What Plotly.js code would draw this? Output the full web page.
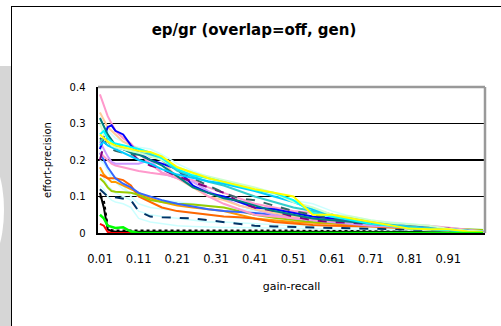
<!DOCTYPE html>
<html><head><meta charset="utf-8">
<script src="https://cdn.plot.ly/plotly-3.0.1.min.js"></script>
<style>
body{margin:0;background:#fff;}
#wrap{position:relative;width:501px;height:326px;overflow:hidden;background:#fff;}
#strip{position:absolute;left:0;top:66px;width:11px;height:260px;background:#d6d6d6;}
#arc{position:absolute;left:-40px;top:152px;width:44px;height:116px;border-radius:50%;background:#fff;}
#frame{position:absolute;left:11px;top:6px;width:500px;height:330px;border-left:1.5px solid #000;border-top:1.5px solid #000;}
#chart{position:absolute;left:0;top:0;width:501px;height:326px;}
</style></head>
<body>
<div id="wrap">
  <div id="strip"></div><div id="arc"></div><div id="frame"></div>
  <div id="chart"></div>
</div>
<script>
// all 100 categories of the x axis
const categories = ["0.01","0.02","0.03","0.04","0.05","0.06","0.07","0.08","0.09","0.10",
"0.11","0.12","0.13","0.14","0.15","0.16","0.17","0.18","0.19","0.20",
"0.21","0.22","0.23","0.24","0.25","0.26","0.27","0.28","0.29","0.30",
"0.31","0.32","0.33","0.34","0.35","0.36","0.37","0.38","0.39","0.40",
"0.41","0.42","0.43","0.44","0.45","0.46","0.47","0.48","0.49","0.50",
"0.51","0.52","0.53","0.54","0.55","0.56","0.57","0.58","0.59","0.60",
"0.61","0.62","0.63","0.64","0.65","0.66","0.67","0.68","0.69","0.70",
"0.71","0.72","0.73","0.74","0.75","0.76","0.77","0.78","0.79","0.80",
"0.81","0.82","0.83","0.84","0.85","0.86","0.87","0.88","0.89","0.90",
"0.91","0.92","0.93","0.94","0.95","0.96","0.97","0.98","0.99","1.00"];
const tickLabels = ["0.01","0.11","0.21","0.31","0.41","0.51","0.61","0.71","0.81","0.91"];
// recall points at which the curves were read
const recall = ["0.01","0.02","0.03","0.04","0.05","0.07","0.09","0.11","0.14","0.17","0.21","0.25","0.29","0.33",
"0.37","0.41","0.46","0.51","0.56","0.61","0.66","0.71","0.76","0.81","0.86","0.91","0.96","1.00"];

const sBlackDot  = [0.10,0.09,0.02,0.008,0.007,0.007,0.007,0.007,0.007,0.007,0.007,0.007,0.007,0.006,0.006,0.006,0.006,0.006,0.006,0.006,0.006,0.006,0.006,0.006,0.006,0.006,0.006,0.006];
const sBlack     = [0.11,0.07,0.01,0.005,0.004,0.004,0.004,0.004,0.004,0.004,0.004,0.004,0.003,0.003,0.003,0.003,0.003,0.003,0.003,0.003,0.003,0.003,0.003,0.003,0.003,0.003,0.003,0.003];
const sLightCyan1= [0.31,0.29,0.28,0.27,0.26,0.25,0.24,0.235,0.23,0.215,0.19,0.17,0.155,0.14,0.13,0.12,0.105,0.09,0.08,0.06,0.045,0.035,0.03,0.025,0.02,0.015,0.01,0.01];
const sLightCyan2= [0.20,0.19,0.17,0.15,0.14,0.12,0.11,0.10,0.095,0.09,0.085,0.08,0.075,0.07,0.065,0.06,0.055,0.05,0.045,0.04,0.035,0.03,0.025,0.02,0.015,0.012,0.01,0.008];
const sLightCyan3= [0.17,0.15,0.13,0.12,0.11,0.10,0.09,0.06,0.05,0.045,0.04,0.035,0.03,0.03,0.028,0.025,0.022,0.02,0.02,0.018,0.015,0.015,0.012,0.01,0.008,0.006,0.005,0.004];
const sLightCyan4= [0.24,0.20,0.17,0.16,0.15,0.13,0.10,0.08,0.07,0.065,0.06,0.055,0.05,0.045,0.04,0.038,0.035,0.032,0.03,0.028,0.025,0.022,0.02,0.018,0.015,0.012,0.01,0.008];
const sLightCyan5= [0.13,0.12,0.10,0.09,0.085,0.08,0.07,0.04,0.03,0.025,0.02,0.018,0.016,0.015,0.015,0.014,0.013,0.012,0.012,0.011,0.01,0.01,0.009,0.008,0.007,0.006,0.005,0.005];
const sLightGreen= [0.30,0.27,0.26,0.24,0.235,0.23,0.225,0.22,0.21,0.20,0.18,0.165,0.155,0.145,0.135,0.125,0.11,0.085,0.07,0.05,0.045,0.035,0.028,0.025,0.02,0.012,0.006,0.004];
const sSkyBlue   = [0.24,0.25,0.24,0.235,0.23,0.22,0.21,0.20,0.19,0.175,0.16,0.15,0.142,0.135,0.125,0.115,0.10,0.085,0.065,0.05,0.04,0.03,0.022,0.015,0.01,0.008,0.004,0.003];
const sAqua      = [0.25,0.26,0.25,0.24,0.235,0.23,0.225,0.22,0.215,0.20,0.17,0.155,0.14,0.13,0.115,0.10,0.085,0.07,0.06,0.05,0.04,0.03,0.025,0.018,0.014,0.01,0.006,0.004];
const sTeal      = [0.315,0.29,0.27,0.255,0.24,0.23,0.22,0.215,0.20,0.185,0.155,0.125,0.11,0.095,0.088,0.075,0.06,0.05,0.04,0.035,0.03,0.025,0.02,0.015,0.012,0.01,0.005,0.003];
const sDarkTeal  = [0.26,0.25,0.24,0.23,0.225,0.22,0.215,0.215,0.21,0.205,0.17,0.15,0.13,0.11,0.095,0.09,0.075,0.06,0.05,0.04,0.035,0.03,0.025,0.02,0.015,0.01,0.006,0.004];
const sPurple    = [0.20,0.24,0.26,0.255,0.25,0.23,0.22,0.20,0.185,0.175,0.155,0.14,0.125,0.11,0.085,0.07,0.06,0.045,0.035,0.03,0.028,0.025,0.02,0.018,0.015,0.012,0.005,0.003];
const sBlue      = [0.23,0.26,0.29,0.295,0.28,0.27,0.24,0.22,0.20,0.19,0.175,0.13,0.11,0.10,0.085,0.07,0.065,0.055,0.045,0.04,0.035,0.03,0.025,0.02,0.015,0.01,0.006,0.004];
const sLightBlue = [0.22,0.20,0.18,0.165,0.15,0.135,0.125,0.11,0.10,0.09,0.08,0.072,0.065,0.06,0.058,0.055,0.05,0.045,0.04,0.035,0.03,0.025,0.02,0.015,0.012,0.01,0.005,0.004];
const sLavender  = [0.25,0.23,0.21,0.195,0.19,0.19,0.19,0.19,0.20,0.165,0.15,0.14,0.115,0.095,0.075,0.065,0.05,0.04,0.035,0.03,0.025,0.02,0.018,0.015,0.012,0.01,0.006,0.004];
const sTan       = [0.33,0.31,0.29,0.28,0.27,0.25,0.24,0.23,0.22,0.20,0.15,0.125,0.10,0.09,0.075,0.065,0.055,0.045,0.04,0.035,0.03,0.025,0.02,0.015,0.012,0.01,0.005,0.004];
const sPink      = [0.38,0.35,0.32,0.30,0.28,0.26,0.245,0.22,0.19,0.165,0.15,0.13,0.10,0.08,0.065,0.05,0.045,0.04,0.035,0.032,0.03,0.028,0.025,0.02,0.015,0.012,0.006,0.004];
const sRose      = [0.22,0.21,0.20,0.19,0.185,0.18,0.175,0.17,0.165,0.16,0.155,0.145,0.125,0.11,0.095,0.08,0.07,0.06,0.055,0.05,0.04,0.03,0.025,0.02,0.02,0.015,0.008,0.005];
const sLime      = [0.15,0.14,0.125,0.115,0.113,0.112,0.11,0.105,0.09,0.085,0.08,0.078,0.075,0.07,0.06,0.05,0.042,0.035,0.03,0.028,0.025,0.022,0.02,0.018,0.015,0.012,0.01,0.008];
const sLightOrange=[0.18,0.16,0.15,0.14,0.14,0.13,0.12,0.11,0.095,0.085,0.075,0.07,0.065,0.06,0.05,0.04,0.035,0.03,0.028,0.025,0.022,0.02,0.018,0.015,0.012,0.01,0.005,0.003];
const sOrange    = [0.16,0.155,0.15,0.15,0.15,0.145,0.13,0.10,0.085,0.07,0.06,0.055,0.05,0.045,0.043,0.04,0.03,0.025,0.022,0.02,0.02,0.018,0.015,0.012,0.01,0.008,0.005,0.003];
const sNavy      = [0.12,0.11,0.10,0.10,0.098,0.095,0.09,0.06,0.045,0.043,0.042,0.04,0.035,0.03,0.025,0.02,0.018,0.016,0.015,0.014,0.013,0.012,0.011,0.01,0.009,0.008,0.006,0.005];
const sCyan      = [0.27,0.28,0.26,0.25,0.245,0.24,0.235,0.23,0.22,0.205,0.175,0.158,0.15,0.14,0.128,0.118,0.11,0.09,0.055,0.045,0.035,0.025,0.02,0.012,0.01,0.008,0.003,0.002];
const sYellow    = [0.27,0.26,0.25,0.245,0.24,0.235,0.23,0.225,0.222,0.21,0.18,0.165,0.15,0.14,0.13,0.12,0.11,0.10,0.05,0.05,0.04,0.03,0.02,0.012,0.01,0.01,0.004,0.003];
const sRed       = [0.025,0.02,0.003,0,0,0,0,0,0,0,0,0,0,0,0,0,0,0,0,0,0,0,0,0,0,0,0,0];
const sGreen     = [0.05,0.04,0.02,0.017,0.014,0.016,0.004,0,0,0,0,0,0,0,0,0,0,0,0,0,0,0,0,0,0,0,0,0];

// [values, colour, width, dash] in drawing order
const series = [
  [sBlackDot,'#000000',2,'dot'],
  [sBlack,'#000000',2,'solid'],
  [sLightCyan1,'#CCFFFF',1.5,'solid'],
  [sLightCyan2,'#CCFFFF',1.5,'solid'],
  [sLightCyan3,'#CCFFFF',1.5,'solid'],
  [sLightCyan4,'#CCFFFF',1.5,'solid'],
  [sLightCyan5,'#CCFFFF',1.5,'solid'],
  [sNavy,'#003366',2,'dash'],
  [sLightOrange,'#FF9900',2,'solid'],
  [sOrange,'#FF6600',2,'solid'],
  [sLime,'#99CC00',2,'solid'],
  [sLightBlue,'#3366FF',2,'solid'],
  [sRose,'#FF99CC',2,'solid'],
  [sLavender,'#CC99FF',2,'solid'],
  [sTan,'#FFCC99',2,'solid'],
  [sPink,'#FF99CC',2,'solid'],
  [sBlue,'#0000FF',2,'solid'],
  [sPurple,'#800080',2,'dash'],
  [sDarkTeal,'#336666',2,'dash'],
  [sTeal,'#008080',2,'solid'],
  [sAqua,'#33CCCC',2,'solid'],
  [sSkyBlue,'#00CCFF',2,'solid'],
  [sLightGreen,'#CCFFCC',2,'solid'],
  [sCyan,'#00FFFF',2,'solid'],
  [sYellow,'#FFFF00',2,'solid'],
  [sRed,'#FF0000',2,'solid'],
  [sGreen,'#00FF00',2.5,'solid']
];

const traces = series.map(s => ({
  type:'scatter', mode:'lines', x: recall, y: s[0],
  line:{color:s[1], width:s[2], dash:s[3]}, hoverinfo:'skip'
}));

const fnt = 'DejaVu Sans, Arial, sans-serif';
const layout = {
  width:501, height:326,
  margin:{l:98, r:16, t:87, b:93},
  paper_bgcolor:'rgba(0,0,0,0)', plot_bgcolor:'rgba(0,0,0,0)',
  showlegend:false,
  title:{text:'ep/gr (overlap=off, gen)', x:254/501, xanchor:'center', y:1-30/326, yanchor:'middle',
         font:{family:fnt, size:15, color:'#000', weight:'bold'}},
  xaxis:{type:'category', categoryorder:'array', categoryarray:categories,
         tickmode:'array', tickvals:tickLabels, ticktext:tickLabels,
         range:[-0.5,99.5], showgrid:false, zeroline:false,
         showline:true, linecolor:'#000', linewidth:2, ticks:'',
         tickfont:{family:fnt, size:11.5, color:'#000'}, ticklabelstandoff:14,
         title:{text:'gain-recall', font:{family:fnt, size:11, color:'#000'}, standoff:18}},
  yaxis:{range:[0,0.4], tick0:0, dtick:0.1, showgrid:true, gridcolor:'#000', gridwidth:1.5,
         zeroline:false, showline:true, linecolor:'#000', linewidth:2.5, ticks:'',
         tickfont:{family:fnt, size:10, color:'#000'}, ticklabelstandoff:8,
         title:{text:'effort-precision', font:{family:fnt, size:10, color:'#000'}, standoff:16}},
  shapes:[
    {type:'line', xref:'paper', yref:'paper', x0:0, x1:1, y0:1, y1:1, line:{color:'#999999', width:2.5}},
    {type:'line', xref:'paper', yref:'paper', x0:1, x1:1, y0:0, y1:1, line:{color:'#999999', width:2.5}}
  ]
};
Plotly.newPlot('chart', traces, layout, {displayModeBar:false, staticPlot:true});
</script>
</body></html>
